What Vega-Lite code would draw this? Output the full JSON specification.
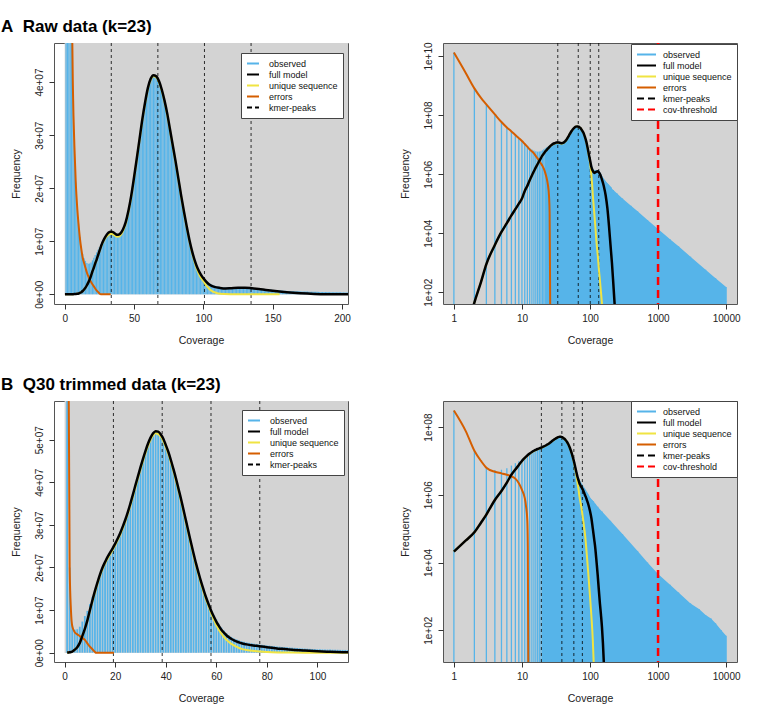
{
"$schema": "https://vega.github.io/schema/vega-lite/v6.json",
"background": "white",
"padding": {"left": 0, "top": 17, "right": 5, "bottom": 5},
"bounds": "flush",
"columns": 2,
"spacing": {"row": 97, "column": 95},
"resolve": {"scale": {"color": "independent", "x": "independent", "y": "independent"}, "legend": {"color": "independent"}},
"config": {
 "font": "Liberation Sans",
 "view": {"stroke": "#555", "strokeWidth": 1},
 "axis": {"grid": false, "domain": false, "ticks": true, "tickSize": 5, "tickColor": "#333", "tickWidth": 1, "labelFont": "Liberation Sans", "labelFontSize": 10, "labelColor": "#222", "titleFont": "Liberation Sans", "titleFontSize": 10.5, "titleFontWeight": "normal", "titleColor": "#222", "labelFlush": false, "labelOverlap": false},
 "axisX": {"labelPadding": 4, "titlePadding": 12},
 "axisY": {"labelPadding": 7, "titlePadding": 13},
 "legend": {"fillColor": "white", "strokeColor": "#444", "padding": 5, "symbolType": "stroke", "symbolStrokeWidth": 2, "labelFontSize": 9, "labelFont": "Liberation Sans", "labelColor": "#111", "labelLimit": 200, "clipHeight": 11, "rowPadding": 0}
},
"datasets": {
 "raw_obs": [
  {"cov":1,"f":1.3e10},{"cov":2,"f":7.8e8},{"cov":3,"f":2.3e8},{"cov":4,"f":1.05e8},{"cov":5,"f":5.8e7},{"cov":6,"f":3.8e7},{"cov":7,"f":2.8e7},{"cov":8,"f":2.12e7},{"cov":9,"f":1.67e7},{"cov":10,"f":1.33e7},
  {"cov":11,"f":1.08e7},{"cov":12,"f":8.9e6},{"cov":13,"f":7.6e6},{"cov":14,"f":6.8e6},{"cov":15,"f":6.3e6},{"cov":16,"f":5.9e6},{"cov":17,"f":5.75e6},{"cov":18,"f":5.8e6},{"cov":19,"f":6.0e6},{"cov":20,"f":6.4e6},
  {"cov":21,"f":6.9e6},{"cov":22,"f":7.4e6},{"cov":23,"f":7.9e6},{"cov":24,"f":8.4e6},{"cov":25,"f":8.9e6},{"cov":26,"f":9.4e6},{"cov":27,"f":9.9e6},{"cov":28,"f":10.4e6},{"cov":29,"f":10.8e6},{"cov":30,"f":11.2e6},
  {"cov":31,"f":11.5e6},{"cov":32,"f":11.7e6},{"cov":33,"f":11.8e6},{"cov":34,"f":11.8e6},{"cov":35,"f":11.7e6},{"cov":36,"f":11.5e6},{"cov":37,"f":11.3e6},{"cov":38,"f":11.2e6},{"cov":39,"f":11.25e6},{"cov":40,"f":11.4e6},
  {"cov":41,"f":11.75e6},{"cov":42,"f":12.2e6},{"cov":43,"f":12.8e6},{"cov":44,"f":13.6e6},{"cov":45,"f":14.6e6},{"cov":46,"f":15.8e6},{"cov":47,"f":17.1e6},{"cov":48,"f":18.6e6},{"cov":49,"f":20.3e6},{"cov":50,"f":22.0e6},
  {"cov":51,"f":23.8e6},{"cov":52,"f":25.6e6},{"cov":53,"f":27.4e6},{"cov":54,"f":29.3e6},{"cov":55,"f":31.2e6},{"cov":56,"f":33.0e6},{"cov":57,"f":34.7e6},{"cov":58,"f":36.2e6},{"cov":59,"f":37.6e6},{"cov":60,"f":38.9e6},
  {"cov":61,"f":39.9e6},{"cov":62,"f":40.6e6},{"cov":63,"f":41.1e6},{"cov":64,"f":41.3e6},{"cov":65,"f":41.3e6},{"cov":66,"f":41.1e6},{"cov":67,"f":40.7e6},{"cov":68,"f":40.2e6},{"cov":69,"f":39.5e6},{"cov":70,"f":38.6e6},
  {"cov":71,"f":37.6e6},{"cov":72,"f":36.5e6},{"cov":73,"f":35.3e6},{"cov":74,"f":34.0e6},{"cov":75,"f":32.5e6},{"cov":76,"f":31.0e6},{"cov":77,"f":29.5e6},{"cov":78,"f":28.0e6},{"cov":79,"f":26.5e6},{"cov":80,"f":25.0e6},
  {"cov":81,"f":23.4e6},{"cov":82,"f":21.8e6},{"cov":83,"f":20.2e6},{"cov":84,"f":18.6e6},{"cov":85,"f":17.1e6},{"cov":86,"f":15.6e6},{"cov":87,"f":14.2e6},{"cov":88,"f":12.8e6},{"cov":89,"f":11.5e6},{"cov":90,"f":10.2e6},
  {"cov":91,"f":9.1e6},{"cov":92,"f":8.0e6},{"cov":93,"f":7.1e6},{"cov":94,"f":6.3e6},{"cov":95,"f":5.6e6},{"cov":96,"f":4.9e6},{"cov":97,"f":4.4e6},{"cov":98,"f":3.9e6},{"cov":99,"f":3.5e6},{"cov":100,"f":3.2e6},
  {"cov":101,"f":2.9e6},{"cov":102,"f":2.6e6},{"cov":103,"f":2.35e6},{"cov":104,"f":2.15e6},{"cov":105,"f":2.0e6},{"cov":106,"f":1.85e6},{"cov":107,"f":1.72e6},{"cov":108,"f":1.62e6},{"cov":109,"f":1.54e6},{"cov":110,"f":1.48e6},
  {"cov":111,"f":1.43e6},{"cov":112,"f":1.39e6},{"cov":113,"f":1.36e6},{"cov":114,"f":1.33e6},{"cov":115,"f":1.31e6},{"cov":116,"f":1.3e6},{"cov":117,"f":1.29e6},{"cov":118,"f":1.29e6},{"cov":119,"f":1.29e6},{"cov":120,"f":1.3e6},
  {"cov":121,"f":1.31e6},{"cov":122,"f":1.32e6},{"cov":123,"f":1.33e6},{"cov":124,"f":1.34e6},{"cov":125,"f":1.35e6},{"cov":126,"f":1.35e6},{"cov":127,"f":1.36e6},{"cov":128,"f":1.36e6},{"cov":129,"f":1.36e6},{"cov":130,"f":1.35e6},
  {"cov":131,"f":1.34e6},{"cov":132,"f":1.33e6},{"cov":133,"f":1.31e6},{"cov":134,"f":1.29e6},{"cov":135,"f":1.26e6},{"cov":136,"f":1.23e6},{"cov":137,"f":1.2e6},{"cov":138,"f":1.17e6},{"cov":139,"f":1.14e6},{"cov":140,"f":1.1e6},
  {"cov":141,"f":1.07e6},{"cov":142,"f":1.04e6},{"cov":143,"f":1.01e6},{"cov":144,"f":9.8e5},{"cov":145,"f":9.5e5},{"cov":146,"f":9.2e5},{"cov":147,"f":9.0e5},{"cov":148,"f":8.7e5},{"cov":149,"f":8.5e5},{"cov":150,"f":8.2e5},
  {"cov":151,"f":8.0e5},{"cov":152,"f":7.8e5},{"cov":153,"f":7.6e5},{"cov":154,"f":7.4e5},{"cov":155,"f":7.2e5},{"cov":156,"f":7.1e5},{"cov":157,"f":6.9e5},{"cov":158,"f":6.8e5},{"cov":159,"f":6.6e5},{"cov":160,"f":6.5e5},
  {"cov":161,"f":6.4e5},{"cov":162,"f":6.3e5},{"cov":163,"f":6.2e5},{"cov":164,"f":6.1e5},{"cov":165,"f":6.0e5},{"cov":166,"f":5.9e5},{"cov":167,"f":5.8e5},{"cov":168,"f":5.7e5},{"cov":169,"f":5.55e5},{"cov":170,"f":5.4e5},
  {"cov":171,"f":5.33e5},{"cov":172,"f":5.26e5},{"cov":173,"f":5.19e5},{"cov":174,"f":5.12e5},{"cov":175,"f":5.05e5},{"cov":176,"f":4.98e5},{"cov":177,"f":4.91e5},{"cov":178,"f":4.84e5},{"cov":179,"f":4.77e5},{"cov":180,"f":4.7e5},
  {"cov":181,"f":4.64e5},{"cov":182,"f":4.58e5},{"cov":183,"f":4.52e5},{"cov":184,"f":4.46e5},{"cov":185,"f":4.4e5},{"cov":186,"f":4.34e5},{"cov":187,"f":4.28e5},{"cov":188,"f":4.22e5},{"cov":189,"f":4.16e5},{"cov":190,"f":4.1e5},
  {"cov":191,"f":4.05e5},{"cov":192,"f":4.0e5},{"cov":193,"f":3.95e5},{"cov":194,"f":3.9e5},{"cov":195,"f":3.85e5},{"cov":196,"f":3.8e5},{"cov":197,"f":3.75e5},{"cov":198,"f":3.7e5},{"cov":199,"f":3.65e5},{"cov":200,"f":3.6e5},
  {"cov":201,"f":3.56e5},{"cov":202,"f":3.52e5},{"cov":203,"f":3.48e5},{"cov":204,"f":3.44e5},{"cov":205,"f":3.4e5},
  {"cov":220,"f":2.9e5},{"cov":250,"f":2.2e5},{"cov":300,"f":1.5e5},{"cov":400,"f":8.5e4},{"cov":500,"f":5.5e4},{"cov":700,"f":2.8e4},{"cov":1000,"f":1.4e4},{"cov":1500,"f":6.3e3},{"cov":2000,"f":3.6e3},{"cov":3000,"f":1.6e3},{"cov":5000,"f":5.8e2},{"cov":7000,"f":3.0e2},{"cov":10000,"f":1.5e2}
 ],
 "raw_full": [
  {"cov":0.2,"f":0.01},{"cov":1.9,"f":30},{"cov":2,"f":45},{"cov":2.5,"f":220},{"cov":3,"f":900},{"cov":4,"f":4000},{"cov":5,"f":1.1e4},{"cov":6,"f":2.2e4},{"cov":7,"f":4e4},{"cov":8,"f":6.5e4},{"cov":9,"f":1e5},{"cov":10,"f":1.5e5},
  {"cov":11,"f":2.7e5},{"cov":12,"f":4e5},{"cov":13,"f":6.2e5},{"cov":14,"f":9e5},{"cov":15,"f":1.25e6},{"cov":16,"f":1.7e6},{"cov":17,"f":2.2e6},{"cov":18,"f":2.8e6},{"cov":19,"f":3.5e6},{"cov":20,"f":4.3e6},
  {"cov":21,"f":5.0e6},{"cov":22,"f":5.8e6},{"cov":23,"f":6.5e6},{"cov":24,"f":7.3e6},{"cov":25,"f":8.1e6},{"cov":26,"f":8.9e6},{"cov":27,"f":9.6e6},{"cov":28,"f":10.2e6},{"cov":29,"f":10.7e6},{"cov":30,"f":11.1e6},
  {"cov":31,"f":11.45e6},{"cov":32,"f":11.7e6},{"cov":33,"f":11.8e6},{"cov":34,"f":11.8e6},{"cov":35,"f":11.7e6},{"cov":36,"f":11.5e6},{"cov":37,"f":11.3e6},{"cov":38,"f":11.2e6},{"cov":39,"f":11.25e6},{"cov":40,"f":11.4e6},
  {"cov":42,"f":12.2e6},{"cov":44,"f":13.6e6},{"cov":46,"f":15.8e6},{"cov":48,"f":18.6e6},{"cov":50,"f":22e6},{"cov":52,"f":25.6e6},{"cov":54,"f":29.3e6},{"cov":56,"f":33e6},{"cov":58,"f":36.2e6},{"cov":60,"f":38.9e6},
  {"cov":62,"f":40.6e6},{"cov":64,"f":41.3e6},{"cov":66,"f":41.1e6},{"cov":68,"f":40.2e6},{"cov":70,"f":38.6e6},{"cov":72,"f":36.5e6},{"cov":74,"f":34e6},{"cov":76,"f":31e6},{"cov":78,"f":28e6},{"cov":80,"f":25e6},
  {"cov":82,"f":21.8e6},{"cov":84,"f":18.6e6},{"cov":86,"f":15.6e6},{"cov":88,"f":12.8e6},{"cov":90,"f":10.2e6},{"cov":92,"f":8e6},{"cov":94,"f":6.2e6},{"cov":96,"f":4.8e6},{"cov":98,"f":3.8e6},{"cov":100,"f":3.0e6},
  {"cov":102,"f":2.4e6},{"cov":104,"f":1.9e6},{"cov":106,"f":1.6e6},{"cov":108,"f":1.4e6},{"cov":112,"f":1.2e6},{"cov":116,"f":1.1e6},{"cov":120,"f":1.15e6},{"cov":125,"f":1.22e6},{"cov":130,"f":1.25e6},{"cov":135,"f":1.15e6},
  {"cov":140,"f":1.0e6},{"cov":145,"f":8.2e5},{"cov":150,"f":6.5e5},{"cov":160,"f":3.8e5},{"cov":170,"f":1.9e5},{"cov":180,"f":7e4},{"cov":190,"f":1.8e4},{"cov":200,"f":4e3},{"cov":210,"f":1e3},{"cov":220,"f":200},{"cov":230,"f":40},{"cov":240,"f":8}
 ],
 "raw_uniq": [
  {"cov":0.2,"f":0.01},{"cov":1.9,"f":30},{"cov":2,"f":45},{"cov":2.5,"f":220},{"cov":3,"f":900},{"cov":4,"f":4000},{"cov":5,"f":1.1e4},{"cov":6,"f":2.2e4},{"cov":7,"f":4e4},{"cov":8,"f":6.5e4},{"cov":9,"f":1e5},{"cov":10,"f":1.5e5},
  {"cov":11,"f":2.7e5},{"cov":12,"f":4e5},{"cov":13,"f":6.2e5},{"cov":14,"f":9e5},{"cov":15,"f":1.25e6},{"cov":16,"f":1.7e6},{"cov":17,"f":2.2e6},{"cov":18,"f":2.8e6},{"cov":19,"f":3.5e6},{"cov":20,"f":4.3e6},
  {"cov":21,"f":5.0e6},{"cov":22,"f":5.8e6},{"cov":23,"f":6.5e6},{"cov":24,"f":7.3e6},{"cov":25,"f":8.05e6},{"cov":26,"f":8.8e6},{"cov":27,"f":9.45e6},{"cov":28,"f":10.0e6},{"cov":30,"f":10.8e6},
  {"cov":32,"f":11.3e6},{"cov":34,"f":11.4e6},{"cov":36,"f":11.1e6},{"cov":38,"f":10.85e6},{"cov":40,"f":11.05e6},{"cov":42,"f":11.9e6},{"cov":44,"f":13.3e6},{"cov":46,"f":15.5e6},{"cov":48,"f":18.35e6},{"cov":50,"f":21.8e6},
  {"cov":52,"f":25.4e6},{"cov":54,"f":29.1e6},{"cov":56,"f":32.8e6},{"cov":58,"f":36.0e6},{"cov":60,"f":38.7e6},{"cov":62,"f":40.4e6},{"cov":64,"f":41.1e6},{"cov":66,"f":40.9e6},{"cov":68,"f":40.0e6},{"cov":70,"f":38.4e6},
  {"cov":72,"f":36.3e6},{"cov":74,"f":33.8e6},{"cov":76,"f":30.8e6},{"cov":78,"f":27.8e6},{"cov":80,"f":24.8e6},{"cov":82,"f":21.6e6},{"cov":84,"f":18.4e6},{"cov":86,"f":15.4e6},{"cov":88,"f":12.6e6},{"cov":90,"f":10.0e6},
  {"cov":92,"f":7.7e6},{"cov":94,"f":5.8e6},{"cov":96,"f":4.3e6},{"cov":98,"f":3.2e6},{"cov":100,"f":2.5e6},{"cov":102,"f":1.7e6},{"cov":104,"f":1.1e6},{"cov":106,"f":6.5e5},{"cov":108,"f":3.8e5},{"cov":110,"f":2.0e5},
  {"cov":115,"f":5.5e4},{"cov":120,"f":1.6e4},{"cov":125,"f":4.5e3},{"cov":130,"f":1.8e3},{"cov":135,"f":600},{"cov":140,"f":250},{"cov":145,"f":100},{"cov":150,"f":40},{"cov":155,"f":15}
 ],
 "raw_err": [
  {"cov":1,"f":1.3e10},{"cov":1.5,"f":2.6e9},{"cov":2,"f":8e8},{"cov":2.5,"f":3.8e8},{"cov":3,"f":2.3e8},{"cov":4,"f":1.05e8},{"cov":5,"f":5.8e7},{"cov":6,"f":3.8e7},{"cov":7,"f":2.8e7},{"cov":8,"f":2.1e7},
  {"cov":9,"f":1.65e7},{"cov":10,"f":1.32e7},{"cov":11,"f":1.05e7},{"cov":12,"f":8.5e6},{"cov":13,"f":6.9e6},{"cov":14,"f":5.9e6},{"cov":15,"f":5.0e6},{"cov":16,"f":4.1e6},{"cov":17,"f":3.4e6},{"cov":18,"f":2.8e6},
  {"cov":19,"f":2.3e6},{"cov":20,"f":1.9e6},{"cov":21,"f":1.5e6},{"cov":22,"f":1.1e6},{"cov":23,"f":7.5e5},{"cov":24,"f":4.5e5},{"cov":25,"f":1.8e5},{"cov":25.5,"f":5e4},{"cov":26,"f":40},{"cov":26.5,"f":0.1},{"cov":33.2,"f":0.1}
 ],
 "raw_peaks": [{"cov":33.6},{"cov":67.2},{"cov":100.8},{"cov":134.4}],
 "trim_obs": [
  {"cov":1,"f":3.1e8},{"cov":2,"f":2.0e7},{"cov":3,"f":6.5e6},{"cov":4,"f":5.4e6},{"cov":5,"f":5.5e6},{"cov":6,"f":6.1e6},{"cov":7,"f":7.3e6},{"cov":8,"f":8.6e6},{"cov":9,"f":9.8e6},{"cov":10,"f":11.4e6},
  {"cov":11,"f":13.1e6},{"cov":12,"f":14.7e6},{"cov":13,"f":16.5e6},{"cov":14,"f":18.4e6},{"cov":15,"f":20.0e6},{"cov":16,"f":21.3e6},{"cov":17,"f":22.5e6},{"cov":18,"f":23.5e6},{"cov":19,"f":24.5e6},{"cov":20,"f":25.6e6},
  {"cov":21,"f":26.8e6},{"cov":22,"f":28.1e6},{"cov":23,"f":29.6e6},{"cov":24,"f":31.2e6},{"cov":25,"f":33.0e6},{"cov":26,"f":35.0e6},{"cov":27,"f":37.1e6},{"cov":28,"f":39.3e6},{"cov":29,"f":41.4e6},{"cov":30,"f":43.5e6},
  {"cov":31,"f":45.5e6},{"cov":32,"f":47.4e6},{"cov":33,"f":49.1e6},{"cov":34,"f":50.5e6},{"cov":35,"f":51.5e6},{"cov":36,"f":52.0e6},{"cov":37,"f":51.9e6},{"cov":38,"f":51.3e6},{"cov":39,"f":50.3e6},{"cov":40,"f":48.8e6},
  {"cov":41,"f":47.2e6},{"cov":42,"f":45.3e6},{"cov":43,"f":43.2e6},{"cov":44,"f":41.0e6},{"cov":45,"f":38.6e6},{"cov":46,"f":36.2e6},{"cov":47,"f":33.6e6},{"cov":48,"f":31.0e6},{"cov":49,"f":28.4e6},{"cov":50,"f":25.8e6},
  {"cov":51,"f":23.3e6},{"cov":52,"f":20.9e6},{"cov":53,"f":18.7e6},{"cov":54,"f":16.6e6},{"cov":55,"f":14.8e6},{"cov":56,"f":13.0e6},{"cov":57,"f":11.5e6},{"cov":58,"f":10.0e6},{"cov":59,"f":8.8e6},{"cov":60,"f":7.8e6},
  {"cov":61,"f":6.8e6},{"cov":62,"f":5.9e6},{"cov":63,"f":5.2e6},{"cov":64,"f":4.6e6},{"cov":65,"f":4.1e6},{"cov":66,"f":3.7e6},{"cov":67,"f":3.35e6},{"cov":68,"f":3.1e6},{"cov":69,"f":2.9e6},{"cov":70,"f":2.7e6},
  {"cov":71,"f":2.55e6},{"cov":72,"f":2.4e6},{"cov":73,"f":2.3e6},{"cov":74,"f":2.2e6},{"cov":75,"f":2.1e6},{"cov":76,"f":2.0e6},{"cov":77,"f":1.92e6},{"cov":78,"f":1.85e6},{"cov":79,"f":1.77e6},{"cov":80,"f":1.7e6},
  {"cov":81,"f":1.64e6},{"cov":82,"f":1.58e6},{"cov":83,"f":1.52e6},{"cov":84,"f":1.46e6},{"cov":85,"f":1.41e6},{"cov":86,"f":1.36e6},{"cov":87,"f":1.31e6},{"cov":88,"f":1.26e6},{"cov":89,"f":1.21e6},{"cov":90,"f":1.17e6},
  {"cov":91,"f":1.13e6},{"cov":92,"f":1.09e6},{"cov":93,"f":1.05e6},{"cov":94,"f":1.0e6},{"cov":95,"f":9.6e5},{"cov":96,"f":9.3e5},{"cov":97,"f":8.9e5},{"cov":98,"f":8.6e5},{"cov":99,"f":8.3e5},{"cov":100,"f":8.0e5},
  {"cov":101,"f":7.8e5},{"cov":102,"f":7.6e5},{"cov":103,"f":7.4e5},{"cov":104,"f":7.3e5},{"cov":105,"f":7.2e5},{"cov":106,"f":7.0e5},{"cov":107,"f":6.9e5},{"cov":108,"f":6.8e5},{"cov":109,"f":6.6e5},{"cov":110,"f":6.5e5},
  {"cov":111,"f":6.4e5},{"cov":112,"f":6.3e5},{"cov":113,"f":6.2e5},
  {"cov":120,"f":5.4e5},{"cov":130,"f":4.4e5},{"cov":150,"f":3.2e5},{"cov":200,"f":1.7e5},{"cov":300,"f":6.9e4},{"cov":500,"f":2.2e4},{"cov":700,"f":1.0e4},{"cov":1000,"f":4.6e3},{"cov":1500,"f":2.2e3},{"cov":2000,"f":1.3e3},{"cov":3000,"f":6.2e2},{"cov":4000,"f":4.2e2},{"cov":5000,"f":2.8e2},{"cov":6000,"f":2.2e2},{"cov":7000,"f":1.6e2},{"cov":8500,"f":1.0e2},{"cov":10000,"f":68}
 ],
 "trim_full": [
  {"cov":1,"f":2.1e4},{"cov":1.5,"f":4.5e4},{"cov":2,"f":7.8e4},{"cov":2.5,"f":1.5e5},{"cov":3,"f":2.6e5},{"cov":3.5,"f":4.5e5},{"cov":4,"f":7e5},{"cov":5,"f":1.3e6},{"cov":6,"f":2.3e6},{"cov":7,"f":3.9e6},{"cov":8,"f":5.6e6},{"cov":9,"f":7.6e6},{"cov":10,"f":10e6},
  {"cov":11,"f":12.3e6},{"cov":12,"f":14.5e6},{"cov":13,"f":16.5e6},{"cov":14,"f":18.4e6},{"cov":15,"f":20.0e6},{"cov":16,"f":21.3e6},{"cov":17,"f":22.5e6},{"cov":18,"f":23.5e6},{"cov":19,"f":24.5e6},{"cov":20,"f":25.6e6},
  {"cov":21,"f":26.8e6},{"cov":22,"f":28.1e6},{"cov":23,"f":29.6e6},{"cov":24,"f":31.2e6},{"cov":25,"f":33.0e6},{"cov":26,"f":35e6},{"cov":27,"f":37.1e6},{"cov":28,"f":39.3e6},{"cov":29,"f":41.4e6},{"cov":30,"f":43.5e6},
  {"cov":31,"f":45.5e6},{"cov":32,"f":47.4e6},{"cov":33,"f":49.1e6},{"cov":34,"f":50.5e6},{"cov":35,"f":51.5e6},{"cov":36,"f":52.0e6},{"cov":37,"f":51.9e6},{"cov":38,"f":51.3e6},{"cov":39,"f":50.3e6},{"cov":40,"f":48.8e6},
  {"cov":41,"f":47.2e6},{"cov":42,"f":45.3e6},{"cov":43,"f":43.2e6},{"cov":44,"f":41.0e6},{"cov":45,"f":38.6e6},{"cov":46,"f":36.2e6},{"cov":47,"f":33.6e6},{"cov":48,"f":31.0e6},{"cov":49,"f":28.4e6},{"cov":50,"f":25.8e6},
  {"cov":51,"f":23.3e6},{"cov":52,"f":20.9e6},{"cov":53,"f":18.7e6},{"cov":54,"f":16.6e6},{"cov":55,"f":14.7e6},{"cov":56,"f":12.9e6},{"cov":57,"f":11.3e6},{"cov":58,"f":9.8e6},{"cov":59,"f":8.5e6},{"cov":60,"f":7.3e6},
  {"cov":61,"f":6.3e6},{"cov":62,"f":5.4e6},{"cov":63,"f":4.7e6},{"cov":64,"f":4.1e6},{"cov":65,"f":3.6e6},{"cov":66,"f":3.2e6},{"cov":67,"f":2.9e6},{"cov":68,"f":2.65e6},{"cov":69,"f":2.4e6},{"cov":70,"f":2.2e6},
  {"cov":72,"f":1.95e6},{"cov":74,"f":1.75e6},{"cov":76,"f":1.6e6},{"cov":78,"f":1.45e6},{"cov":80,"f":1.3e6},{"cov":82,"f":1.15e6},{"cov":84,"f":1.0e6},{"cov":86,"f":9e5},{"cov":88,"f":8e5},{"cov":90,"f":7e5},
  {"cov":95,"f":5e5},{"cov":100,"f":3.3e5},{"cov":105,"f":2e5},{"cov":110,"f":1e5},{"cov":115,"f":5e4},{"cov":120,"f":2.5e4},{"cov":125,"f":1e4},{"cov":130,"f":4e3},{"cov":135,"f":1.5e3},{"cov":140,"f":600},{"cov":145,"f":280},{"cov":150,"f":120},{"cov":155,"f":40},{"cov":160,"f":10}
 ],
 "trim_uniq": [
  {"cov":1,"f":2.1e4},{"cov":1.5,"f":4.5e4},{"cov":2,"f":7.8e4},{"cov":2.5,"f":1.5e5},{"cov":3,"f":2.6e5},{"cov":3.5,"f":4.5e5},{"cov":4,"f":7e5},{"cov":5,"f":1.3e6},{"cov":6,"f":2.3e6},{"cov":7,"f":3.9e6},{"cov":8,"f":5.6e6},{"cov":9,"f":7.5e6},{"cov":10,"f":9.85e6},
  {"cov":12,"f":14.2e6},{"cov":14,"f":18.1e6},{"cov":16,"f":21.0e6},{"cov":18,"f":23.1e6},{"cov":20,"f":25.2e6},{"cov":22,"f":27.7e6},{"cov":24,"f":30.8e6},{"cov":26,"f":34.5e6},{"cov":28,"f":38.8e6},{"cov":30,"f":43.0e6},
  {"cov":32,"f":46.9e6},{"cov":34,"f":50.0e6},{"cov":36,"f":51.5e6},{"cov":38,"f":50.8e6},{"cov":40,"f":48.3e6},{"cov":42,"f":44.8e6},{"cov":44,"f":40.5e6},{"cov":46,"f":35.7e6},{"cov":48,"f":30.5e6},{"cov":50,"f":25.3e6},
  {"cov":52,"f":20.4e6},{"cov":54,"f":16.1e6},{"cov":56,"f":12.4e6},{"cov":57,"f":10.8e6},{"cov":58,"f":9.2e6},{"cov":59,"f":7.8e6},{"cov":60,"f":6.5e6},{"cov":61,"f":5.4e6},{"cov":62,"f":4.5e6},{"cov":63,"f":3.7e6},{"cov":64,"f":3.0e6},
  {"cov":65,"f":2.5e6},{"cov":66,"f":2.05e6},{"cov":67,"f":1.7e6},{"cov":68,"f":1.4e6},{"cov":69,"f":1.1e6},{"cov":70,"f":9e5},{"cov":72,"f":6.5e5},{"cov":75,"f":4e5},{"cov":80,"f":1.6e5},{"cov":85,"f":6e4},
  {"cov":90,"f":1.6e4},{"cov":95,"f":4e3},{"cov":100,"f":1e3},{"cov":105,"f":250},{"cov":110,"f":50},{"cov":112,"f":20},{"cov":115,"f":5}
 ],
 "trim_err": [
  {"cov":1,"f":3.1e8},{"cov":1.5,"f":7.5e7},{"cov":2,"f":2e7},{"cov":2.5,"f":1e7},{"cov":3,"f":6.3e6},{"cov":4,"f":4.8e6},{"cov":5,"f":4.3e6},{"cov":6,"f":3.9e6},{"cov":7,"f":3.5e6},{"cov":8,"f":3.0e6},
  {"cov":9,"f":2.2e6},{"cov":10,"f":1.4e6},{"cov":11,"f":8e5},{"cov":11.5,"f":4.5e5},{"cov":12,"f":1.7e5},{"cov":12.2,"f":3e4},{"cov":12.4,"f":10},{"cov":13,"f":0.1},{"cov":19.5,"f":0.1}
 ],
 "trim_peaks": [{"cov":19.3},{"cov":38.6},{"cov":57.9},{"cov":77.2}],
 "thr": [{"cov":1000}]
},
"concat": [
   {
    "width": 294, "height": 261,
    "view": {"fill": "white", "stroke": "#555"},
    "title": {"text": "A\u00a0\u00a0Raw data (k=23)", "anchor": "start", "frame": "group", "dx": -53, "offset": -6, "baseline": "alphabetic", "fontSize": 17, "fontWeight": "bold", "font": "Liberation Sans", "color": "#000"},
    "encoding": {"x": {"field": "cov", "type": "quantitative", "title": "Coverage", "scale": {"domain": [-7.7, 204.3], "nice": false, "zero": false}, "axis": {"values": [0, 50, 100, 150, 200]}}},
    "layer": [
     {"data": {"values": [{"cov": 0}]}, "mark": {"type": "rect", "fill": "#D3D3D3", "clip": true},
      "encoding": {"x2": {"datum": 100000}, "y": {"datum": 0, "type": "quantitative", "title": "Frequency", "scale": {"domain": [-1.83e6, 4.736e7], "nice": false, "zero": false}, "axis": {"values": [0, 1e7, 2e7, 3e7, 4e7], "labelExpr": "datum.value == 0 ? '0e+00' : format(datum.value/1e7,'d') + 'e+07'", "labelAngle": 270, "labelAlign": "center", "labelBaseline": "alphabetic"}}, "y2": {"datum": 1e12}}},
     {"data": {"name": "raw_obs"}, "mark": {"type": "rule", "strokeWidth": 1.2, "clip": true},
      "encoding": {"y": {"field": "f", "type": "quantitative", "title": "Frequency", "scale": {"domain": [-1.83e6, 4.736e7], "nice": false, "zero": false}}, "y2": {"datum": 0},
       "color": {"datum": "observed", "type": "nominal", "scale": {"domain": ["observed", "full model", "unique sequence", "errors", "kmer-peaks"], "range": ["#56B4E9", "#000000", "#F0E442", "#D55E00", "#000000"]},
        "legend": {"orient": "none", "legendX": 187, "legendY": 10, "title": null, "symbolSize": 144, "labelOffset": 9, "encode": {"symbols": {"update": {"stroke": {"signal": "datum.value == 'observed' ? '#56B4E9' : datum.value == 'unique sequence' ? '#F0E442' : datum.value == 'errors' ? '#D55E00' : datum.value == 'cov-threshold' ? '#FF0000' : '#000000'"}, "strokeDash": {"signal": "datum.value == 'kmer-peaks' || datum.value == 'cov-threshold' ? [5, 3] : [1, 0]"}, "strokeWidth": {"value": 2}}}}}}}},
     {"data": {"name": "raw_peaks"}, "mark": {"type": "rule", "strokeWidth": 0.8, "strokeDash": [3, 3], "clip": true},
      "encoding": {"color": {"datum": "kmer-peaks", "type": "nominal", "scale": {"domain": ["observed", "full model", "unique sequence", "errors", "kmer-peaks"], "range": ["#56B4E9", "#000000", "#F0E442", "#D55E00", "#000000"]}}}},
     {"data": {"name": "raw_err"}, "mark": {"type": "line", "strokeWidth": 2, "clip": true, "interpolate": "monotone"},
      "encoding": {"y": {"field": "f", "type": "quantitative", "title": "Frequency", "scale": {"domain": [-1.83e6, 4.736e7], "nice": false, "zero": false}},
       "color": {"datum": "errors", "type": "nominal", "scale": {"domain": ["observed", "full model", "unique sequence", "errors", "kmer-peaks"], "range": ["#56B4E9", "#000000", "#F0E442", "#D55E00", "#000000"]}}}},
     {"data": {"name": "raw_uniq"}, "mark": {"type": "line", "strokeWidth": 2, "clip": true, "interpolate": "monotone"},
      "encoding": {"y": {"field": "f", "type": "quantitative", "title": "Frequency", "scale": {"domain": [-1.83e6, 4.736e7], "nice": false, "zero": false}},
       "color": {"datum": "unique sequence", "type": "nominal", "scale": {"domain": ["observed", "full model", "unique sequence", "errors", "kmer-peaks"], "range": ["#56B4E9", "#000000", "#F0E442", "#D55E00", "#000000"]}}}},
     {"data": {"name": "raw_full"}, "mark": {"type": "line", "strokeWidth": 2.5, "clip": true, "interpolate": "monotone"},
      "encoding": {"y": {"field": "f", "type": "quantitative", "title": "Frequency", "scale": {"domain": [-1.83e6, 4.736e7], "nice": false, "zero": false}},
       "color": {"datum": "full model", "type": "nominal", "scale": {"domain": ["observed", "full model", "unique sequence", "errors", "kmer-peaks"], "range": ["#56B4E9", "#000000", "#F0E442", "#D55E00", "#000000"]}}}}
    ]
   },
   {
    "width": 294, "height": 261,
    "view": {"fill": "#D3D3D3", "stroke": "#555"},
    "encoding": {"x": {"field": "cov", "type": "quantitative", "title": "Coverage", "scale": {"type": "log", "domain": [0.6918, 14454], "nice": false}, "axis": {"values": [1, 10, 100, 1000, 10000], "format": "d"}}},
    "layer": [
     {"data": {"name": "raw_obs"}, "mark": {"type": "rule", "strokeWidth": 1.3, "clip": true},
      "encoding": {"y": {"field": "f", "type": "quantitative", "title": "Frequency", "scale": {"type": "log", "domain": [40.1, 2.75e10], "nice": false}, "axis": {"values": [1e2, 1e4, 1e6, 1e8, 1e10], "labelExpr": "'1e+' + (datum.value < 1e10 ? '0' : '') + format(round(log(datum.value)/LN10),'d')", "labelAngle": 270, "labelAlign": "center", "labelBaseline": "alphabetic"}}, "y2": {"datum": 1},
       "color": {"datum": "observed", "type": "nominal", "scale": {"domain": ["observed", "full model", "unique sequence", "errors", "kmer-peaks", "cov-threshold"], "range": ["#56B4E9", "#000000", "#F0E442", "#D55E00", "#000000", "#FF0000"]},
        "legend": {"orient": "none", "legendX": 188, "legendY": 1, "title": null, "symbolSize": 361, "labelOffset": 6, "encode": {"symbols": {"update": {"stroke": {"signal": "datum.value == 'observed' ? '#56B4E9' : datum.value == 'unique sequence' ? '#F0E442' : datum.value == 'errors' ? '#D55E00' : datum.value == 'cov-threshold' ? '#FF0000' : '#000000'"}, "strokeDash": {"signal": "datum.value == 'kmer-peaks' || datum.value == 'cov-threshold' ? [7, 4] : [1, 0]"}, "strokeWidth": {"value": 2}}}}}}}},
     {"data": {"name": "raw_obs"}, "transform": [{"filter": "datum.cov >= 22"}], "mark": {"type": "area", "fill": "#56B4E9", "clip": true},
      "encoding": {"y": {"field": "f", "type": "quantitative", "title": "Frequency", "scale": {"type": "log", "domain": [40.1, 2.75e10], "nice": false}}, "y2": {"datum": 1}}},
     {"data": {"name": "raw_peaks"}, "mark": {"type": "rule", "strokeWidth": 0.8, "strokeDash": [3, 3], "clip": true},
      "encoding": {"color": {"datum": "kmer-peaks", "type": "nominal", "scale": {"domain": ["observed", "full model", "unique sequence", "errors", "kmer-peaks", "cov-threshold"], "range": ["#56B4E9", "#000000", "#F0E442", "#D55E00", "#000000", "#FF0000"]}}}},
     {"data": {"name": "raw_err"}, "mark": {"type": "line", "strokeWidth": 2, "clip": true, "interpolate": "monotone"},
      "encoding": {"y": {"field": "f", "type": "quantitative", "title": "Frequency", "scale": {"type": "log", "domain": [40.1, 2.75e10], "nice": false}},
       "color": {"datum": "errors", "type": "nominal", "scale": {"domain": ["observed", "full model", "unique sequence", "errors", "kmer-peaks", "cov-threshold"], "range": ["#56B4E9", "#000000", "#F0E442", "#D55E00", "#000000", "#FF0000"]}}}},
     {"data": {"name": "raw_uniq"}, "mark": {"type": "line", "strokeWidth": 2, "clip": true, "interpolate": "monotone"},
      "encoding": {"y": {"field": "f", "type": "quantitative", "title": "Frequency", "scale": {"type": "log", "domain": [40.1, 2.75e10], "nice": false}},
       "color": {"datum": "unique sequence", "type": "nominal", "scale": {"domain": ["observed", "full model", "unique sequence", "errors", "kmer-peaks", "cov-threshold"], "range": ["#56B4E9", "#000000", "#F0E442", "#D55E00", "#000000", "#FF0000"]}}}},
     {"data": {"name": "raw_full"}, "mark": {"type": "line", "strokeWidth": 2.5, "clip": true, "interpolate": "monotone"},
      "encoding": {"y": {"field": "f", "type": "quantitative", "title": "Frequency", "scale": {"type": "log", "domain": [40.1, 2.75e10], "nice": false}},
       "color": {"datum": "full model", "type": "nominal", "scale": {"domain": ["observed", "full model", "unique sequence", "errors", "kmer-peaks", "cov-threshold"], "range": ["#56B4E9", "#000000", "#F0E442", "#D55E00", "#000000", "#FF0000"]}}}},
     {"data": {"name": "thr"}, "mark": {"type": "rule", "strokeWidth": 2.5, "strokeDash": [8, 5], "clip": true},
      "encoding": {"color": {"datum": "cov-threshold", "type": "nominal", "scale": {"domain": ["observed", "full model", "unique sequence", "errors", "kmer-peaks", "cov-threshold"], "range": ["#56B4E9", "#000000", "#F0E442", "#D55E00", "#000000", "#FF0000"]}}}}
    ]
   },
   {
    "width": 294, "height": 261,
    "view": {"fill": "white", "stroke": "#555"},
    "title": {"text": "B\u00a0\u00a0Q30 trimmed data (k=23)", "anchor": "start", "frame": "group", "dx": -53, "offset": -6, "baseline": "alphabetic", "fontSize": 17, "fontWeight": "bold", "font": "Liberation Sans", "color": "#000"},
    "encoding": {"x": {"field": "cov", "type": "quantitative", "title": "Coverage", "scale": {"domain": [-4.2, 112.1], "nice": false, "zero": false}, "axis": {"values": [0, 20, 40, 60, 80, 100]}}},
    "layer": [
     {"data": {"values": [{"cov": 0}]}, "mark": {"type": "rect", "fill": "#D3D3D3", "clip": true},
      "encoding": {"x2": {"datum": 100000}, "y": {"datum": 0, "type": "quantitative", "title": "Frequency", "scale": {"domain": [-2.19e6, 5.909e7], "nice": false, "zero": false}, "axis": {"values": [0, 1e7, 2e7, 3e7, 4e7, 5e7], "labelExpr": "datum.value == 0 ? '0e+00' : format(datum.value/1e7,'d') + 'e+07'", "labelAngle": 270, "labelAlign": "center", "labelBaseline": "alphabetic"}}, "y2": {"datum": 1e12}}},
     {"data": {"name": "trim_obs"}, "mark": {"type": "rule", "strokeWidth": 1.8, "clip": true},
      "encoding": {"y": {"field": "f", "type": "quantitative", "title": "Frequency", "scale": {"domain": [-2.19e6, 5.909e7], "nice": false, "zero": false}}, "y2": {"datum": 0},
       "color": {"datum": "observed", "type": "nominal", "scale": {"domain": ["observed", "full model", "unique sequence", "errors", "kmer-peaks"], "range": ["#56B4E9", "#000000", "#F0E442", "#D55E00", "#000000"]},
        "legend": {"orient": "none", "legendX": 188, "legendY": 9, "title": null, "symbolSize": 144, "labelOffset": 9, "encode": {"symbols": {"update": {"stroke": {"signal": "datum.value == 'observed' ? '#56B4E9' : datum.value == 'unique sequence' ? '#F0E442' : datum.value == 'errors' ? '#D55E00' : datum.value == 'cov-threshold' ? '#FF0000' : '#000000'"}, "strokeDash": {"signal": "datum.value == 'kmer-peaks' || datum.value == 'cov-threshold' ? [5, 3] : [1, 0]"}, "strokeWidth": {"value": 2}}}}}}}},
     {"data": {"name": "trim_peaks"}, "mark": {"type": "rule", "strokeWidth": 0.8, "strokeDash": [3, 3], "clip": true},
      "encoding": {"color": {"datum": "kmer-peaks", "type": "nominal", "scale": {"domain": ["observed", "full model", "unique sequence", "errors", "kmer-peaks"], "range": ["#56B4E9", "#000000", "#F0E442", "#D55E00", "#000000"]}}}},
     {"data": {"name": "trim_err"}, "mark": {"type": "line", "strokeWidth": 2, "clip": true, "interpolate": "monotone"},
      "encoding": {"y": {"field": "f", "type": "quantitative", "title": "Frequency", "scale": {"domain": [-2.19e6, 5.909e7], "nice": false, "zero": false}},
       "color": {"datum": "errors", "type": "nominal", "scale": {"domain": ["observed", "full model", "unique sequence", "errors", "kmer-peaks"], "range": ["#56B4E9", "#000000", "#F0E442", "#D55E00", "#000000"]}}}},
     {"data": {"name": "trim_uniq"}, "mark": {"type": "line", "strokeWidth": 2, "clip": true, "interpolate": "monotone"},
      "encoding": {"y": {"field": "f", "type": "quantitative", "title": "Frequency", "scale": {"domain": [-2.19e6, 5.909e7], "nice": false, "zero": false}},
       "color": {"datum": "unique sequence", "type": "nominal", "scale": {"domain": ["observed", "full model", "unique sequence", "errors", "kmer-peaks"], "range": ["#56B4E9", "#000000", "#F0E442", "#D55E00", "#000000"]}}}},
     {"data": {"name": "trim_full"}, "mark": {"type": "line", "strokeWidth": 2.5, "clip": true, "interpolate": "monotone"},
      "encoding": {"y": {"field": "f", "type": "quantitative", "title": "Frequency", "scale": {"domain": [-2.19e6, 5.909e7], "nice": false, "zero": false}},
       "color": {"datum": "full model", "type": "nominal", "scale": {"domain": ["observed", "full model", "unique sequence", "errors", "kmer-peaks"], "range": ["#56B4E9", "#000000", "#F0E442", "#D55E00", "#000000"]}}}}
    ]
   },
   {
    "width": 294, "height": 261,
    "view": {"fill": "#D3D3D3", "stroke": "#555"},
    "encoding": {"x": {"field": "cov", "type": "quantitative", "title": "Coverage", "scale": {"type": "log", "domain": [0.6918, 14454], "nice": false}, "axis": {"values": [1, 10, 100, 1000, 10000], "format": "d"}}},
    "layer": [
     {"data": {"name": "trim_obs"}, "mark": {"type": "rule", "strokeWidth": 1.3, "clip": true},
      "encoding": {"y": {"field": "f", "type": "quantitative", "title": "Frequency", "scale": {"type": "log", "domain": [11.5, 5.9e8], "nice": false}, "axis": {"values": [1e2, 1e4, 1e6, 1e8], "labelExpr": "'1e+' + (datum.value < 1e10 ? '0' : '') + format(round(log(datum.value)/LN10),'d')", "labelAngle": 270, "labelAlign": "center", "labelBaseline": "alphabetic"}}, "y2": {"datum": 1},
       "color": {"datum": "observed", "type": "nominal", "scale": {"domain": ["observed", "full model", "unique sequence", "errors", "kmer-peaks", "cov-threshold"], "range": ["#56B4E9", "#000000", "#F0E442", "#D55E00", "#000000", "#FF0000"]},
        "legend": {"orient": "none", "legendX": 188, "legendY": 0, "title": null, "symbolSize": 361, "labelOffset": 6, "encode": {"symbols": {"update": {"stroke": {"signal": "datum.value == 'observed' ? '#56B4E9' : datum.value == 'unique sequence' ? '#F0E442' : datum.value == 'errors' ? '#D55E00' : datum.value == 'cov-threshold' ? '#FF0000' : '#000000'"}, "strokeDash": {"signal": "datum.value == 'kmer-peaks' || datum.value == 'cov-threshold' ? [7, 4] : [1, 0]"}, "strokeWidth": {"value": 2}}}}}}}},
     {"data": {"name": "trim_obs"}, "transform": [{"filter": "datum.cov >= 20"}], "mark": {"type": "area", "fill": "#56B4E9", "clip": true},
      "encoding": {"y": {"field": "f", "type": "quantitative", "title": "Frequency", "scale": {"type": "log", "domain": [11.5, 5.9e8], "nice": false}}, "y2": {"datum": 1}}},
     {"data": {"name": "trim_peaks"}, "mark": {"type": "rule", "strokeWidth": 0.8, "strokeDash": [3, 3], "clip": true},
      "encoding": {"color": {"datum": "kmer-peaks", "type": "nominal", "scale": {"domain": ["observed", "full model", "unique sequence", "errors", "kmer-peaks", "cov-threshold"], "range": ["#56B4E9", "#000000", "#F0E442", "#D55E00", "#000000", "#FF0000"]}}}},
     {"data": {"name": "trim_err"}, "mark": {"type": "line", "strokeWidth": 2, "clip": true, "interpolate": "monotone"},
      "encoding": {"y": {"field": "f", "type": "quantitative", "title": "Frequency", "scale": {"type": "log", "domain": [11.5, 5.9e8], "nice": false}},
       "color": {"datum": "errors", "type": "nominal", "scale": {"domain": ["observed", "full model", "unique sequence", "errors", "kmer-peaks", "cov-threshold"], "range": ["#56B4E9", "#000000", "#F0E442", "#D55E00", "#000000", "#FF0000"]}}}},
     {"data": {"name": "trim_uniq"}, "mark": {"type": "line", "strokeWidth": 2, "clip": true, "interpolate": "monotone"},
      "encoding": {"y": {"field": "f", "type": "quantitative", "title": "Frequency", "scale": {"type": "log", "domain": [11.5, 5.9e8], "nice": false}},
       "color": {"datum": "unique sequence", "type": "nominal", "scale": {"domain": ["observed", "full model", "unique sequence", "errors", "kmer-peaks", "cov-threshold"], "range": ["#56B4E9", "#000000", "#F0E442", "#D55E00", "#000000", "#FF0000"]}}}},
     {"data": {"name": "trim_full"}, "mark": {"type": "line", "strokeWidth": 2.5, "clip": true, "interpolate": "monotone"},
      "encoding": {"y": {"field": "f", "type": "quantitative", "title": "Frequency", "scale": {"type": "log", "domain": [11.5, 5.9e8], "nice": false}},
       "color": {"datum": "full model", "type": "nominal", "scale": {"domain": ["observed", "full model", "unique sequence", "errors", "kmer-peaks", "cov-threshold"], "range": ["#56B4E9", "#000000", "#F0E442", "#D55E00", "#000000", "#FF0000"]}}}},
     {"data": {"name": "thr"}, "mark": {"type": "rule", "strokeWidth": 2.5, "strokeDash": [8, 5], "clip": true},
      "encoding": {"color": {"datum": "cov-threshold", "type": "nominal", "scale": {"domain": ["observed", "full model", "unique sequence", "errors", "kmer-peaks", "cov-threshold"], "range": ["#56B4E9", "#000000", "#F0E442", "#D55E00", "#000000", "#FF0000"]}}}}
    ]
   }
]
}
